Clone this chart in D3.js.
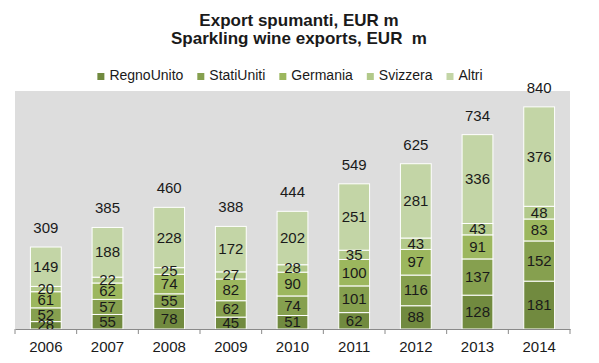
<!DOCTYPE html>
<html>
<head>
<meta charset="utf-8">
<script src="https://cdn.jsdelivr.net/npm/d3@7"></script>
<style>
    body { margin: 0; background: #fff; }
    text { font-family: "Liberation Sans", Arial, sans-serif; fill: #1a1a1a; }
</style>
</head>
<body>
<svg id="chart" width="599" height="363"></svg>
<script>
const years = ['2006', '2007', '2008', '2009', '2010', '2011', '2012', '2013', '2014'];
const seriesNames = ['RegnoUnito', 'StatiUniti', 'Germania', 'Svizzera', 'Altri'];

const regnoUnito = [28, 55, 78, 45, 51, 62, 88, 128, 181];
const statiUniti = [52, 57, 55, 62, 74, 101, 116, 137, 152];
const germania = [61, 62, 74, 82, 90, 100, 97, 91, 83];
const svizzera = [20, 22, 25, 27, 28, 35, 43, 43, 48];
const altri = [149, 188, 228, 172, 202, 251, 281, 336, 376];
const totals = [309, 385, 460, 388, 444, 549, 625, 734, 840];

const colors = ['#718a3f', '#86a04f', '#9cb75e', '#b2c98a', '#c3d5a6'];

// build rows for d3.stack
const seriesValues = [regnoUnito, statiUniti, germania, svizzera, altri];
const rows = years.map((y, i) => {
    let row = {year: y, total: totals[i]};
    seriesNames.forEach((s, j) => row[s] = seriesValues[j][i]);
    return row;
});

const PLOT = {left: 15, right: 570, top: 91, bottom: 329};

const svg = d3.select('#chart');

const xScale = d3.scaleBand()
    .domain(years)
    .range([PLOT.left, PLOT.right])
    .paddingInner(0.5)
    .paddingOuter(0.25);

const yScale = d3.scaleLinear()
    .domain([0, 900])
    .range([PLOT.bottom, PLOT.top]);

// Titles
svg.append('text')
    .attr('x', 299).attr('y', 26)
    .attr('text-anchor', 'middle')
    .style('font-size', '17px').style('font-weight', 'bold')
    .text('Export spumanti, EUR m');
svg.append('text')
    .attr('x', 299).attr('y', 44)
    .attr('text-anchor', 'middle')
    .style('font-size', '17px').style('font-weight', 'bold')
    .attr('xml:space', 'preserve')
    .text('Sparkling wine exports, EUR  m');

// Legend
let legend = svg.append('g');
let lx = 0;
seriesNames.forEach((s, i) => {
    let item = legend.append('g').attr('transform', `translate(${lx},0)`);
    item.append('rect')
        .attr('x', 0).attr('y', 73)
        .attr('width', 7).attr('height', 7)
        .attr('fill', colors[i]);
    let t = item.append('text')
        .attr('x', 12).attr('y', 80)
        .style('font-size', '14px')
        .text(s);
    lx += 12 + t.node().getComputedTextLength() + 14;
});
let legendWidth = lx - 14;
legend.attr('transform', `translate(${290 - legendWidth / 2},0)`);

// Plot area background
svg.append('rect')
    .attr('x', PLOT.left).attr('y', PLOT.top)
    .attr('width', PLOT.right - PLOT.left)
    .attr('height', PLOT.bottom - PLOT.top)
    .attr('fill', '#dddddd');

// Stacked bars
const stacked = d3.stack().keys(seriesNames)(rows);

svg.append('g')
    .selectAll('g')
    .data(stacked)
    .join('g')
    .attr('fill', (d, i) => colors[i])
    .selectAll('rect')
    .data(d => d)
    .join('rect')
    .attr('x', d => xScale(d.data.year))
    .attr('y', d => yScale(d[1]))
    .attr('width', xScale.bandwidth())
    .attr('height', d => yScale(d[0]) - yScale(d[1]))
    .attr('stroke', '#ffffff')
    .attr('stroke-width', 1);

// Segment labels (drawn after all rects so none get covered)
svg.append('g')
    .selectAll('g')
    .data(stacked)
    .join('g')
    .selectAll('text')
    .data(d => d)
    .join('text')
    .attr('x', d => xScale(d.data.year) + xScale.bandwidth() / 2)
    .attr('y', d => (yScale(d[0]) + yScale(d[1])) / 2 + 5)
    .attr('text-anchor', 'middle')
    .style('font-size', '15px')
    .text(d => d[1] - d[0]);

// Total labels
svg.append('g')
    .selectAll('text')
    .data(rows)
    .join('text')
    .attr('x', d => xScale(d.year) + xScale.bandwidth() / 2)
    .attr('y', d => yScale(d3.sum(seriesNames, s => d[s])) - 14)
    .attr('text-anchor', 'middle')
    .style('font-size', '15px')
    .text(d => d.total);

// x axis
let xAxis = d3.axisBottom(xScale).tickSize(0).tickPadding(12);
let axisG = svg.append('g')
    .attr('transform', `translate(0, ${PLOT.bottom})`)
    .call(xAxis);
axisG.select('.domain').attr('stroke', '#8a8a8a');
axisG.selectAll('.tick text')
    .style('font-size', '15px')
    .style('font-family', '"Liberation Sans", Arial, sans-serif')
    .attr('fill', '#1a1a1a');

// Tick marks at category boundaries
let bounds = years.map(y => xScale(y) - xScale.step() * xScale.paddingOuter());
bounds.push(PLOT.right);
axisG.selectAll('.bound')
    .data(bounds)
    .join('line')
    .attr('class', 'bound')
    .attr('x1', d => d).attr('x2', d => d)
    .attr('y1', 0).attr('y2', 5)
    .attr('stroke', '#8a8a8a');
</script>
</body>
</html>
